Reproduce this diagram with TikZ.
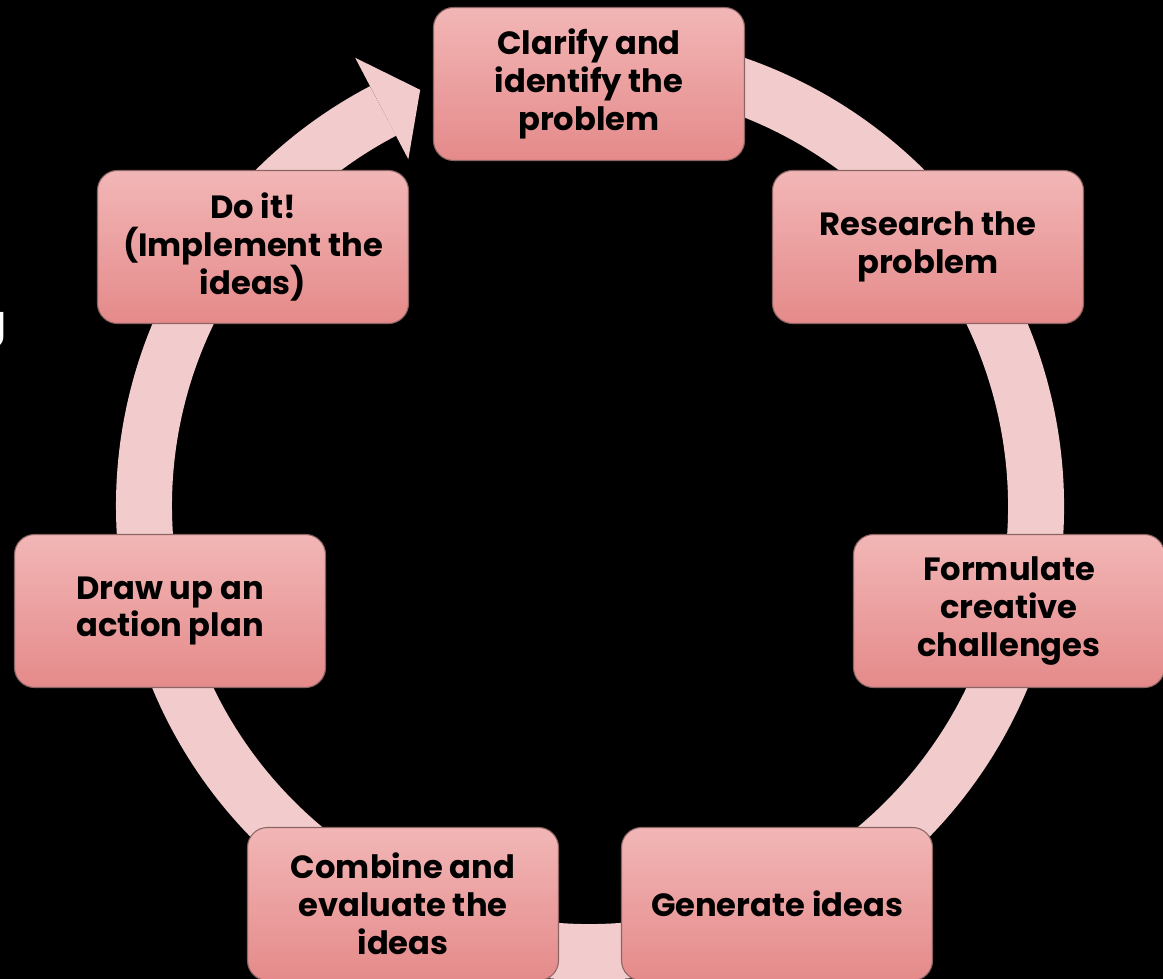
\documentclass[tikz,border=0pt]{standalone}
\usepackage{fontspec}
\setmainfont{Poppins}
\usepackage{tikz}
\definecolor{ringpink}{RGB}{242,204,204}
\definecolor{boxtop}{RGB}{242,182,182}
\definecolor{boxbottom}{RGB}{229,138,138}
\definecolor{boxedge}{RGB}{140,100,100}

\begin{document}
\begin{tikzpicture}
  \tikzstyle{stage}=[rectangle,rounded corners=0.4cm,draw=boxedge,line width=0.6pt,top color=boxtop,bottom color=boxbottom,minimum width=6.22cm,minimum height=3.06cm,align=center,text=black,font=\bfseries\fontsize{18.3}{21.6}\selectfont]
  \tikzstyle{ring}=[draw=ringpink,line width=1.12cm]

  \fill[black] (0,0) rectangle (23.26,-19.58);
  \useasboundingbox (0,0) rectangle (23.26,-19.58);

  \node[anchor=base east,inner sep=0pt,text=white,font=\fontsize{25}{30}\selectfont] (cut) at (0.16,-6.74) {g};

  \coordinate (hub) at (11.8,-10.12);
  \draw[ring] ([shift={(100:8.92)}]hub) arc[start angle=100,end angle=-242.35,radius=8.92];
  \fill[ringpink] ([shift={(117.65:7.83)}]hub) -- ([shift={(112.2:8.99)}]hub) -- ([shift={(117.65:10.12)}]hub) -- cycle;

  \node[stage] (clarify)   at (11.78,-1.68)  {Clarify and\\identify the\\problem};
  \node[stage] (research)  at (18.56,-4.94)  {Research the\\problem};
  \node[stage] (formulate) at (20.18,-12.22) {Formulate\\creative\\challenges};
  \node[stage] (generate)  at (15.54,-18.08) {Generate ideas};
  \node[stage] (combine)   at (8.06,-18.08)  {Combine and\\evaluate the\\ideas};
  \node[stage] (plan)      at (3.40,-12.22)  {Draw up an\\action plan};
  \node[stage] (doit)      at (5.06,-4.94)   {Do it!\\(Implement the\\ideas)};

\end{tikzpicture}
\end{document}
